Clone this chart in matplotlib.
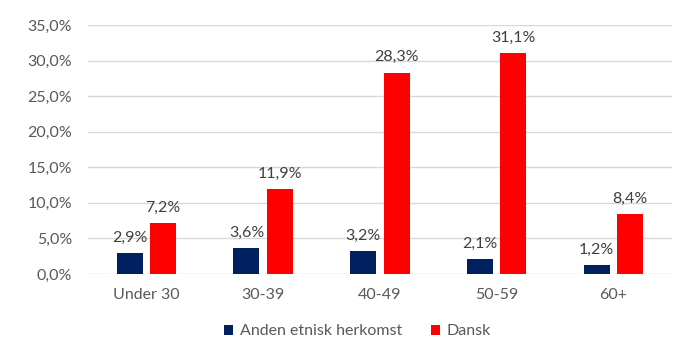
import matplotlib
matplotlib.use("Agg")
import matplotlib.pyplot as plt
import numpy as np
from matplotlib.ticker import FuncFormatter

categories = ["Under 30", "30-39", "40-49", "50-59", "60+"]
anden = [2.9, 3.6, 3.2, 2.1, 1.2]
dansk = [7.2, 11.9, 28.3, 31.1, 8.4]
series_names = ["Anden etnisk herkomst", "Dansk"]

plt.rcParams['font.family'] = ['Lato', 'DejaVu Sans']
gray = '#595959'

fig = plt.figure(figsize=(6.94, 3.38), dpi=100)
ax = fig.add_axes([0.1268, 0.1893, 0.968 - 0.1268, 0.926 - 0.1893])

x = np.arange(len(categories))
w = 0.223
off = 0.143
b1 = ax.bar(x - off, anden, w, color='#002060', label=series_names[0], zorder=3)
b2 = ax.bar(x + off, dansk, w, color='#FF0000', label=series_names[1], zorder=3)

def fmt(v):
    return f"{v:.1f}".replace('.', ',') + '%'

for bars, vals in ((b1, anden), (b2, dansk)):
    for r, v in zip(bars, vals):
        ax.annotate(fmt(v), (r.get_x() + r.get_width() / 2, v), xytext=(0, 6),
                    textcoords='offset points', ha='center', va='bottom',
                    fontsize=11.5, color='#404040')

ax.set_xlim(-0.5, len(categories) - 0.5)
ax.set_ylim(0, 35)
ax.set_yticks(np.arange(0, 35.1, 5))
ax.yaxis.set_major_formatter(FuncFormatter(lambda v, p: fmt(v)))
ax.set_xticks(x)
ax.set_xticklabels(categories)
ax.tick_params(axis='both', length=0, labelsize=11.5, labelcolor=gray)
ax.tick_params(axis='y', pad=11.5)
ax.tick_params(axis='x', pad=10)
ax.grid(axis='y', color='#d9d9d9', linewidth=1, zorder=0)
for s in ax.spines.values():
    s.set_visible(False)

fig.legend(handles=[b1, b2], labels=series_names, loc='center', bbox_to_anchor=(0.515, 0.02),
           ncol=2, frameon=False, fontsize=11.5, labelcolor=gray, handlelength=0.6,
           handleheight=0.6, handletextpad=0.4, columnspacing=1.8)

fig.savefig("out.png", dpi=100)
